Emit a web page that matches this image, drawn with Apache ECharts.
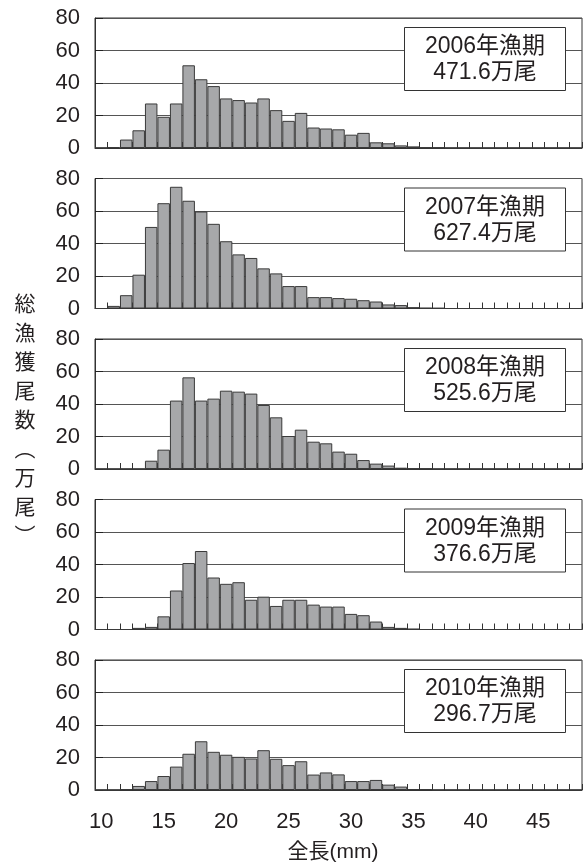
<!DOCTYPE html>
<html>
<head>
<meta charset="utf-8">
<script src="https://cdn.jsdelivr.net/npm/echarts@6/dist/echarts.min.js"></script>
<style>
html,body{margin:0;padding:0;background:#fff;}
#chart{width:586px;height:865px;}
</style>
</head>
<body>
<div id="chart"></div>
<script>
// Categories: total length (mm)
var lengths = ['10','11','12','13','14','15','16','17','18','19','20','21','22','23','24','25','26','27','28','29','30','31','32','33','34','35','36','37','38','39','40','41','42','43','44','45','46','47','48'];

// Catch counts (万尾) per length class
var catch2006 = [0,0.6,5.2,10.9,27.4,19.2,27.4,50.9,42.3,38.1,30.5,29.5,28.0,30.5,23.3,16.7,21.6,12.6,12.0,11.5,8.2,9.3,3.5,2.9,1.6,1.0,0.4,0.3,0,0,0,0,0,0,0,0,0,0,0];
var catch2007 = [0,1.6,8.2,20.8,50.2,64.8,74.9,66.3,59.7,52.1,41.4,33.3,31.1,24.7,21.6,13.8,13.8,7.0,7.0,6.4,6.0,5.1,4.3,2.5,2.1,0.8,0.4,0.3,0,0,0,0,0,0,0,0,0,0,0];
var catch2008 = [0,0,0,0,5.1,11.9,42.1,56.4,42.1,43.3,48.2,47.6,46.4,39.4,31.8,20.3,24.2,16.8,15.8,10.7,9.4,5.5,3.3,2.1,0.8,0.4,0.3,0,0,0,0,0,0,0,0,0,0,0,0];
var catch2009 = [0,0,0,1.0,1.6,8.1,24.0,40.9,48.3,32.0,28.1,29.1,18.3,20.2,14.5,18.3,18.3,15.3,14.1,14.1,9.6,8.8,4.9,1.6,1.0,0.4,0,0,0,0,0,0,0,0,0,0,0,0,0];
var catch2010 = [0,0,0.5,2.5,5.5,8.6,14.4,22.3,30.0,23.5,21.7,20.4,19.4,24.5,19.2,15.3,17.7,9.5,10.8,9.6,5.5,5.5,6.2,3.3,2.1,0.6,0.5,0,0,0,0,0,0,0,0,0,0,0,0];

var seasonLabels = ['2006年漁期','2007年漁期','2008年漁期','2009年漁期','2010年漁期'];
var totalLabels = ['471.6万尾','627.4万尾','525.6万尾','376.6万尾','296.7万尾'];
var yTicks = [0,20,40,60,80];
var xTickLabels = ['10','15','20','25','30','35','40','45'];
var yTitle = '総漁獲尾数︵万尾︶';
var xTitle = '全長(mm)';

var allData = [catch2006, catch2007, catch2008, catch2009, catch2010];

var FONT = '"Liberation Sans", "Noto Sans CJK JP", sans-serif';
var TXT = '#231f20';
var panelTops = [18, 178.5, 339, 499.5, 660];
var panelH = 130;
var leftX = 95;
var rightGap = 4;

var grids = [], xAxes = [], yAxes = [], series = [], graphics = [];
for (var i = 0; i < 5; i++) {
  var last = (i === 4);
  grids.push({left: leftX, right: rightGap, top: panelTops[i], height: panelH,
    show: true, borderColor: '#333', borderWidth: 1, backgroundColor: 'transparent'});
  xAxes.push({
    type: 'category', gridIndex: i, data: lengths, boundaryGap: true,
    axisLine: {show: true, lineStyle: {color: '#333', width: 1}},
    axisTick: {show: true, inside: true, length: 6, interval: 0, lineStyle: {color: '#333'}},
    axisLabel: {show: last, interval: function (idx, val) { return xTickLabels.indexOf(val) >= 0; },
      fontSize: 22, color: TXT, fontFamily: FONT, margin: 21},
    splitLine: {show: false}
  });
  yAxes.push({
    type: 'value', gridIndex: i, min: yTicks[0], max: yTicks[yTicks.length - 1], interval: 20,
    axisLine: {show: true, lineStyle: {color: '#333', width: 1}},
    axisTick: {show: true, inside: true, length: 8, lineStyle: {color: '#222'}},
    axisLabel: {fontSize: 22, color: TXT, fontFamily: FONT, margin: 15},
    splitLine: {show: true, lineStyle: {color: '#555', width: 1}}
  });
  series.push({
    type: 'bar', xAxisIndex: i, yAxisIndex: i, data: allData[i],
    barCategoryGap: '0%', barGap: '0%',
    itemStyle: {color: '#a7a8aa', borderColor: '#3a3a3a', borderWidth: 1},
    silent: true, animation: false
  });
  var bx = 404.5, by = panelTops[i] + 9.5, bw = 161, bh = 63;
  graphics.push({type: 'rect', shape: {x: bx, y: by, width: bw, height: bh},
    style: {fill: '#fff', stroke: '#333', lineWidth: 1}, z: 10});
  graphics.push({type: 'text', x: bx + bw / 2, y: by + bh / 2 + 1, z: 11,
    style: {text: seasonLabels[i] + '\n' + totalLabels[i], fill: TXT, font: '23px ' + FONT,
      textAlign: 'center', textVerticalAlign: 'middle', lineHeight: 26}});
}
graphics.push({type: 'text', x: 25, y: 421, z: 11,
  style: {text: yTitle.split('').join('\n'), fill: TXT, font: '21px ' + FONT,
    textAlign: 'center', textVerticalAlign: 'middle', lineHeight: 29}});
graphics.push({type: 'text', x: 333, y: 852, z: 11,
  style: {text: xTitle, fill: TXT, font: '21px ' + FONT,
    textAlign: 'center', textVerticalAlign: 'middle'}});

var chart = echarts.init(document.getElementById('chart'), null, {renderer: 'canvas'});
chart.setOption({
  animation: false,
  backgroundColor: '#fff',
  grid: grids, xAxis: xAxes, yAxis: yAxes, series: series, graphic: graphics
});
</script>
</body>
</html>
